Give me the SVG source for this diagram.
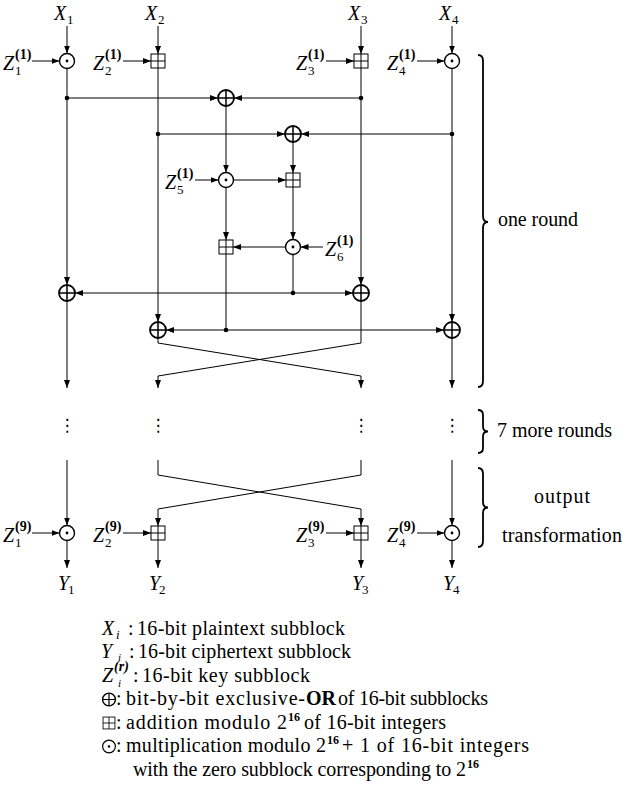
<svg xmlns="http://www.w3.org/2000/svg" xmlns:xlink="http://www.w3.org/1999/xlink" width="629" height="786" viewBox="0 0 629 786">
<defs>
<style>
.t{font-family:"Liberation Serif","DejaVu Serif",serif;font-size:20px;fill:#000}
.m{font-family:"Liberation Serif","DejaVu Serif",serif;font-style:italic;font-size:20px;fill:#000}
.sub{font-family:"Liberation Serif","DejaVu Serif",serif;font-size:13px;fill:#000}
.ls{font-size:11px}
.sup{font-family:"Liberation Serif","DejaVu Serif",serif;font-size:14px;font-weight:bold;fill:#000}
.sup16{font-family:"Liberation Serif","DejaVu Serif",serif;font-size:12px;font-weight:bold;fill:#000}
.it{font-style:italic}
.up{font-style:normal;font-size:20px}
.vd{font-family:"DejaVu Sans",sans-serif;font-size:17px;text-anchor:middle;fill:#000}
.c path{fill:none;stroke:#000;stroke-width:1}
.a{marker-end:url(#ah)}
.sym{fill:#fff;stroke:#000;stroke-width:1.4}
.br{fill:none;stroke:#000;stroke-width:1.8}
</style>
<marker id="ah" viewBox="0 0 8 6" refX="8" refY="3" markerWidth="8" markerHeight="6" markerUnits="userSpaceOnUse" orient="auto"><path d="M0,0L8,3L0,6z" fill="#000"/></marker>
<g id="mul"><circle r="7.5" class="sym"/><circle r="1.4" fill="#000"/></g>
<g id="add"><rect x="-7" y="-7" width="14" height="14" fill="#fff" stroke="#000" stroke-width="1"/><path d="M-7,0H7M0,-7V7" stroke="#000" stroke-width="1"/></g>
<g id="xor"><circle r="8" class="sym" style="stroke-width:1.8"/><path d="M-8,0H8M0,-8V8" stroke="#000" stroke-width="1.5"/></g>
<circle id="dot" r="2.3" fill="#000"/>
</defs>
<rect width="629" height="786" fill="#fff"/>

<g id="connectors" class="c">
<path class="a" d="M67,26V53.5"/>
<path class="a" d="M158,26V54"/>
<path class="a" d="M361,26V54"/>
<path class="a" d="M452,26V53.5"/>
<path class="a" d="M32,61H59.5"/>
<path class="a" d="M123,61H151"/>
<path class="a" d="M326,61H354"/>
<path class="a" d="M417,61H444.5"/>
<path class="a" d="M67,68.5V285"/>
<path class="a" d="M158,68V322"/>
<path class="a" d="M361,68V285"/>
<path class="a" d="M452,68.5V322"/>
<path class="a" d="M67,98H218"/>
<path class="a" d="M361,98H234"/>
<path class="a" d="M158,134H285"/>
<path class="a" d="M452,134H301"/>
<path class="a" d="M226,106V172.5"/>
<path class="a" d="M293,142V173"/>
<path class="a" d="M195,180H218.5"/>
<path class="a" d="M233.5,180H286"/>
<path class="a" d="M226,187.5V240"/>
<path class="a" d="M293,187V239.5"/>
<path class="a" d="M323,247H300.5"/>
<path class="a" d="M285.5,247H233"/>
<path d="M293,254.5V293"/>
<path d="M226,254V330"/>
<path class="a" d="M293,293H75"/>
<path class="a" d="M293,293H353"/>
<path class="a" d="M226,330H166"/>
<path class="a" d="M226,330H444"/>
<path class="a" d="M67,301V388"/>
<path class="a" d="M158,338V343L361,376V388"/>
<path class="a" d="M361,301V343L158,376V388"/>
<path class="a" d="M452,338V388"/>
<path class="a" d="M67,460V525.5"/>
<path class="a" d="M158,460V475L361,509V526"/>
<path class="a" d="M361,460V475L158,509V526"/>
<path class="a" d="M452,460V525.5"/>
<path class="a" d="M32,533H59.5"/>
<path class="a" d="M123,533H151"/>
<path class="a" d="M326,533H354"/>
<path class="a" d="M417,533H444.5"/>
<path class="a" d="M67,540.5V568"/>
<path class="a" d="M158,540V568"/>
<path class="a" d="M361,540V568"/>
<path class="a" d="M452,540.5V568"/>
</g>

<g id="junctions">
<use xlink:href="#dot" x="67" y="98"/>
<use xlink:href="#dot" x="361" y="98"/>
<use xlink:href="#dot" x="158" y="134"/>
<use xlink:href="#dot" x="452" y="134"/>
<use xlink:href="#dot" x="293" y="293"/>
<use xlink:href="#dot" x="226" y="330"/>
</g>

<g id="in1"><text class="m" x="54" y="20">X</text><text class="sub" x="67" y="24">1</text></g>
<g id="in2"><text class="m" x="145" y="20">X</text><text class="sub" x="158" y="24">2</text></g>
<g id="in3"><text class="m" x="348" y="20">X</text><text class="sub" x="361" y="24">3</text></g>
<g id="in4"><text class="m" x="439" y="20">X</text><text class="sub" x="452" y="24">4</text></g>

<g id="key1"><text class="m" x="3" y="70">Z</text><text class="sup" x="15" y="59">(1)</text><text class="sub" x="15" y="75">1</text></g>
<g id="key2"><text class="m" x="93" y="70">Z</text><text class="sup" x="105" y="59">(1)</text><text class="sub" x="105" y="75">2</text></g>
<g id="key3"><text class="m" x="296" y="70">Z</text><text class="sup" x="308" y="59">(1)</text><text class="sub" x="308" y="75">3</text></g>
<g id="key4"><text class="m" x="387" y="70">Z</text><text class="sup" x="399" y="59">(1)</text><text class="sub" x="399" y="75">4</text></g>
<g id="key5"><text class="m" x="165" y="189">Z</text><text class="sup" x="177" y="178">(1)</text><text class="sub" x="177" y="194">5</text></g>
<g id="key6"><text class="m" x="325" y="256">Z</text><text class="sup" x="337" y="245">(1)</text><text class="sub" x="337" y="261">6</text></g>

<g id="mul-1"><use xlink:href="#mul" x="67" y="61"/></g>
<g id="add-2"><use xlink:href="#add" x="158" y="61"/></g>
<g id="add-3"><use xlink:href="#add" x="361" y="61"/></g>
<g id="mul-4"><use xlink:href="#mul" x="452" y="61"/></g>
<g id="xor-a"><use xlink:href="#xor" x="226" y="98"/></g>
<g id="xor-b"><use xlink:href="#xor" x="293" y="134"/></g>
<g id="mul-5"><use xlink:href="#mul" x="226" y="180"/></g>
<g id="add-mid"><use xlink:href="#add" x="293" y="180"/></g>
<g id="add-low"><use xlink:href="#add" x="226" y="247"/></g>
<g id="mul-6"><use xlink:href="#mul" x="293" y="247"/></g>
<g id="xor-1"><use xlink:href="#xor" x="67" y="293"/></g>
<g id="xor-3"><use xlink:href="#xor" x="361" y="293"/></g>
<g id="xor-2"><use xlink:href="#xor" x="158" y="330"/></g>
<g id="xor-4"><use xlink:href="#xor" x="452" y="330"/></g>

<g id="ellipses">
<text class="vd" x="67" y="431">⋮</text>
<text class="vd" x="158" y="431">⋮</text>
<text class="vd" x="361" y="431">⋮</text>
<text class="vd" x="452" y="431">⋮</text>
</g>

<g id="key9-1"><text class="m" x="3" y="542">Z</text><text class="sup" x="15" y="531">(9)</text><text class="sub" x="15" y="547">1</text></g>
<g id="key9-2"><text class="m" x="93" y="542">Z</text><text class="sup" x="105" y="531">(9)</text><text class="sub" x="105" y="547">2</text></g>
<g id="key9-3"><text class="m" x="296" y="542">Z</text><text class="sup" x="308" y="531">(9)</text><text class="sub" x="308" y="547">3</text></g>
<g id="key9-4"><text class="m" x="387" y="542">Z</text><text class="sup" x="399" y="531">(9)</text><text class="sub" x="399" y="547">4</text></g>

<g id="out-mul-1"><use xlink:href="#mul" x="67" y="533"/></g>
<g id="out-add-2"><use xlink:href="#add" x="158" y="533"/></g>
<g id="out-add-3"><use xlink:href="#add" x="361" y="533"/></g>
<g id="out-mul-4"><use xlink:href="#mul" x="452" y="533"/></g>

<g id="out1"><text class="m" x="58" y="590">Y</text><text class="sub" x="68" y="594">1</text></g>
<g id="out2"><text class="m" x="149" y="590">Y</text><text class="sub" x="159" y="594">2</text></g>
<g id="out3"><text class="m" x="352" y="590">Y</text><text class="sub" x="362" y="594">3</text></g>
<g id="out4"><text class="m" x="443" y="590">Y</text><text class="sub" x="453" y="594">4</text></g>

<g id="brace-round">
<path class="br" d="M478,55Q483,55 483,61L483,216Q483,222 488,222Q483,222 483,228L483,381Q483,387 478,387"/>
<text class="t" x="498" y="226" textLength="80">one round</text>
</g>
<g id="brace-more">
<path class="br" d="M478,410Q483,410 483,415L483,426.5Q483,431.5 488,431.5Q483,431.5 483,436.5L483,448Q483,453 478,453"/>
<text class="t" x="497" y="437" textLength="115">7 more rounds</text>
</g>
<g id="brace-output">
<path class="br" d="M478,468Q483,468 483,474L483,502Q483,507.5 488,507.5Q483,507.5 483,513L483,541Q483,547 478,547"/>
<text class="t" x="562" y="503" text-anchor="middle" textLength="56">output</text>
<text class="t" x="562" y="542" text-anchor="middle" textLength="120">transformation</text>
</g>

<g id="legend">
<text class="m" x="102" y="634.5">X<tspan class="sub it" x="116" y="638.5">i</tspan><tspan class="up" x="128" y="634.5">:</tspan></text>
<text class="t" x="137" y="634.5" textLength="208">16-bit plaintext subblock</text>
<text class="m" x="101" y="658">Y<tspan class="sub ls it" x="118" y="661">i</tspan><tspan class="up" x="129" y="658">:</tspan></text>
<text class="t" x="138" y="658" textLength="213">16-bit ciphertext subblock</text>
<text class="m" x="102" y="681.5">Z<tspan class="sup" font-size="13" x="114" y="671">(<tspan class="it">r</tspan>)</tspan><tspan class="sub ls it" x="118" y="686.5">i</tspan><tspan class="up" x="133" y="681.5">:</tspan></text>
<text class="t" x="142" y="681.5" textLength="168">16-bit key subblock</text>
<use xlink:href="#xor" transform="translate(109,699.5) scale(0.8)"/><text class="t" x="116" y="705">:</text>
<text class="t" x="126" y="705" textLength="179">bit-by-bit exclusive-</text><text class="t" x="306" y="705" font-weight="bold" font-size="17">OR</text>
<text class="t" x="338" y="705" textLength="150">of 16-bit subblocks</text>
<use xlink:href="#add" transform="translate(109,723) scale(0.85)"/><text class="t" x="116" y="728.5">:</text>
<text class="t" x="126" y="728.5" textLength="161">addition modulo 2</text><text class="sup16" x="288" y="720.5">16</text>
<text class="t" x="304" y="728.5" textLength="142">of 16-bit integers</text>
<use xlink:href="#mul" transform="translate(109,746.5) scale(0.85)"/><text class="t" x="116" y="752">:</text>
<text class="t" x="126" y="752" textLength="200">multiplication modulo 2</text><text class="sup16" x="327" y="744">16</text>
<text class="t" x="342" y="752" textLength="187">+ 1 of 16-bit integers</text>
<text class="t" x="133" y="775.5" textLength="333">with the zero subblock corresponding to 2</text><text class="sup16" x="467" y="767.5">16</text>
</g>
</svg>
